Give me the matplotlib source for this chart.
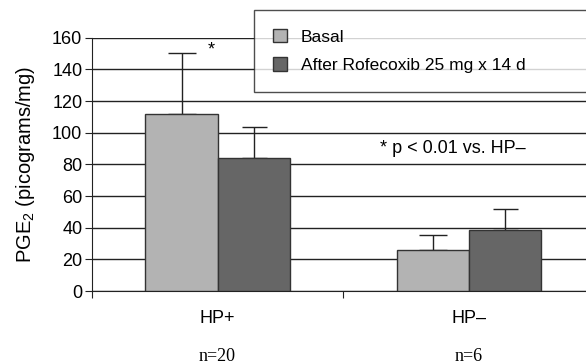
import numpy as np
import matplotlib.pyplot as plt

# data
groups = ["HP+", "HP\u2013"]
counts = ["n=20", "n=6"]
basal = [111.5, 26]
basal_err = [39, 9.2]
after = [84, 38.5]
after_err = [19.7, 13]

plt.rcParams['font.family'] = ['Liberation Sans', 'DejaVu Sans']
plt.rcParams['mathtext.fontset'] = 'custom'
plt.rcParams['mathtext.rm'] = 'Liberation Sans'
plt.rcParams['mathtext.it'] = 'Liberation Sans:italic'

fig = plt.figure(figsize=(5.86, 3.64), dpi=100)
ax = fig.add_axes([0.157, 0.2005, 0.857, 0.696])

x = np.arange(len(groups))
w = 0.287
ax.bar(x - w / 2, basal, w, color="#b3b3b3", edgecolor="#333333", linewidth=1,
       label="Basal", zorder=3)
ax.bar(x + w / 2, after, w, color="#666666", edgecolor="#333333", linewidth=1,
       label="After Rofecoxib 25 mg x 14 d", zorder=3)
ax.errorbar(x - w / 2, basal, yerr=[np.zeros(2), basal_err], fmt="none",
            ecolor="#222222", elinewidth=1, capsize=10, capthick=1, zorder=2)
ax.errorbar(x + w / 2, after, yerr=[np.zeros(2), after_err], fmt="none",
            ecolor="#222222", elinewidth=1, capsize=9, capthick=1, zorder=2)

ax.set_xlim(-0.5, 1.5)
ax.set_ylim(0, 160)
ax.set_yticks(range(0, 161, 20))
ax.yaxis.grid(True, color="#222222", linewidth=1)
ax.set_axisbelow(True)
for s in ["top", "right"]:
    ax.spines[s].set_visible(False)
ax.spines["left"].set_color("#222222")
ax.spines["bottom"].set_color("#222222")

ax.set_xticks([-0.5, 0.5, 1.5])
ax.set_xticklabels([])
ax.tick_params(axis="x", which="major", length=5, color="#222222")
ax.set_xticks(x, minor=True)
ax.set_xticklabels(groups, minor=True)
ax.tick_params(axis="x", which="minor", length=0, pad=14, labelsize=13)
ax.tick_params(axis="y", length=5, color="#222222", labelsize=13, pad=2)

for xi, c in zip(x, counts):
    ax.annotate(c, (xi, 0), xycoords=("data", "axes fraction"),
                xytext=(0, -65), textcoords="offset pixels", ha="center",
                va="center", family="Liberation Serif", fontsize=13)

ax.set_ylabel("PGE$_2$ (picograms/mg)", fontsize=14.5, labelpad=11)

ax.text(-0.027, 152, "*", fontsize=13, ha="center", va="center")
ax.text(0.938, 90.3, "* p < 0.01 vs. HP\u2013", fontsize=13, ha="center",
        va="center")

leg = ax.legend(loc="upper left", bbox_to_anchor=(0.3227, 0.5, 0.75, 0.609),
                mode="expand", frameon=True, fancybox=False,
                edgecolor="#222222", fontsize=12.5, handlelength=0.8,
                handleheight=0.8, borderpad=1.1, labelspacing=0.72,
                handletextpad=0.8, borderaxespad=0)
leg.get_frame().set_linewidth(1)

fig.savefig("out.png", dpi=100)
